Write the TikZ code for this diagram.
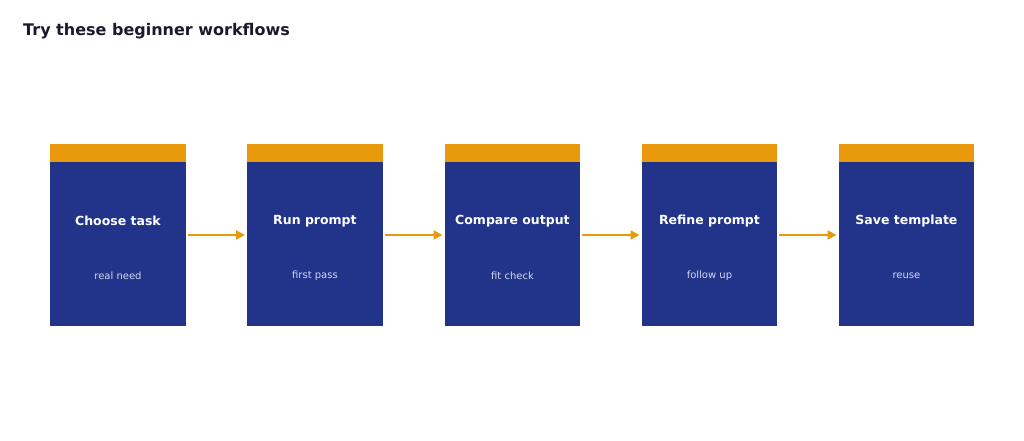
\documentclass[tikz,border=0pt]{standalone}
\usepackage{fontspec}
\setmainfont{DejaVu Sans}
\usetikzlibrary{arrows.meta}
\definecolor{bluebox}{HTML}{22338A}
\definecolor{orangebar}{HTML}{E8990C}
\definecolor{titlec}{HTML}{1A1A2E}
\definecolor{subc}{HTML}{D4D8F0}
\begin{document}
\begin{tikzpicture}[x=1pt,y=-1pt,
  card/.style={fill=bluebox,draw=none,minimum width=135.5pt,minimum height=164pt,inner sep=0pt,anchor=north west},
  bar/.style={fill=orangebar,draw=none,minimum width=135.5pt,minimum height=18pt,inner sep=0pt,anchor=south west},
  head/.style={text=white,font=\bfseries\fontsize{12.5}{14}\selectfont},
  sub/.style={text=subc,font=\fontsize{10}{12}\selectfont},
  flow/.style={draw=orangebar,line width=2.5pt,-{Triangle[length=9pt,width=9pt]}}]
\useasboundingbox (0,0) rectangle (1024,441);
\node[anchor=base west,text=titlec,font=\bfseries\fontsize{16}{19}\selectfont,inner sep=0pt] (title) at (23,36) {Try these beginner workflows};
\foreach \i/\x/\h/\s in {1/50/Choose task/real need,2/247/Run prompt/first pass,3/444.5/Compare output/fit check,4/641.5/Refine prompt/follow up,5/838.5/Save template/reuse}{
  \node[card] (c\i) at (\x,162) {};
  \node[bar] (b\i) at (\x,162) {};
  \node[head] (h\i) at ([yshift=-59pt]c\i.north) {\h};
  \node[sub] (s\i) at ([yshift=-114pt]c\i.north) {\s};
}
\foreach \a/\b in {1/2,2/3,3/4,4/5}{
  \draw[flow] ([xshift=2pt,yshift=-73pt]c\a.north east) -- ([xshift=-2pt,yshift=-73pt]c\b.north west);
}
\end{tikzpicture}
\end{document}
